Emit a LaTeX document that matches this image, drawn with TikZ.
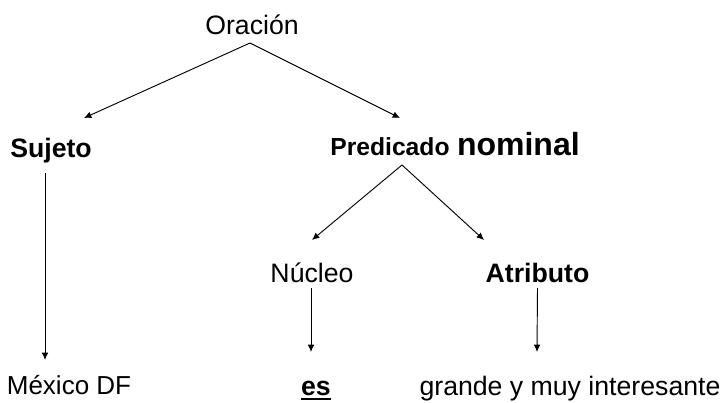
\documentclass[tikz,border=0pt]{standalone}
\usepackage{fontspec}
\setmainfont{Liberation Sans}
\usetikzlibrary{arrows.meta}

\newcommand{\subrayado}[1]{\vtop{\hbox{#1}\kern1.8pt\hrule height 1.5pt}}

\begin{document}
\begin{tikzpicture}[x=0.75pt,y=-0.75pt,>={Latex[length=5.5pt,width=5pt]},line width=0.7pt,
    txt/.style={font=\fontsize{20}{24}\selectfont, inner sep=0pt, anchor=base},
    txtb/.style={txt, font=\fontsize{20}{24}\selectfont\bfseries}]
        % Marco
        \useasboundingbox (0,0) rectangle (725,403);

        % Nodos
        \node[txt] (or) at (252,35) {Oración};
        \node[txtb] (suj) at (51,157) {Sujeto};
        \node[txtb] (pred) at (455,155) {{\fontsize{18.5}{22}\selectfont Predicado} {\fontsize{24}{28}\selectfont nominal}};
        \node[txt] (nuc) at (312,282) {Núcleo};
        \node[txtb] (atr) at (537.5,282) {Atributo};
        \node[txt,font=\fontsize{19.5}{23}\selectfont] (mex) at (69,394) {México DF};
        \node[txtb] (es) at (316,395) {\subrayado{es}};
        \node[txt] (gra) at (570,395) {grande y muy interesante};

        % Puntas
        \coordinate (psuj) at (84,118);
        \coordinate (ppred) at (400,118);
        \coordinate (pmex) at (45,360);
        \coordinate (pnuc) at (312,240);
        \coordinate (patr) at (484,240);
        \coordinate (pes) at (311,352);
        \coordinate (pgra) at (537,352);

        % Flechas
        \draw[->] ([xshift=-1.5pt,yshift=-6pt]or.base) -- (psuj);
        \draw[->] ([xshift=-1.5pt,yshift=-6pt]or.base) -- (ppred);
        \draw[->] ([xshift=-4.5pt,yshift=-12pt]suj.base) -- (pmex);
        \draw[->] ([xshift=-39.75pt,yshift=-7.5pt]pred.base) -- (pnuc);
        \draw[->] ([xshift=-39.75pt,yshift=-7.5pt]pred.base) -- (patr);
        \draw[->] ([xshift=-0.75pt,yshift=-4.5pt]nuc.base) -- (pes);
        \draw[->] ([yshift=-4.5pt]atr.base) -- (pgra);
    \end{tikzpicture}
\end{document}
